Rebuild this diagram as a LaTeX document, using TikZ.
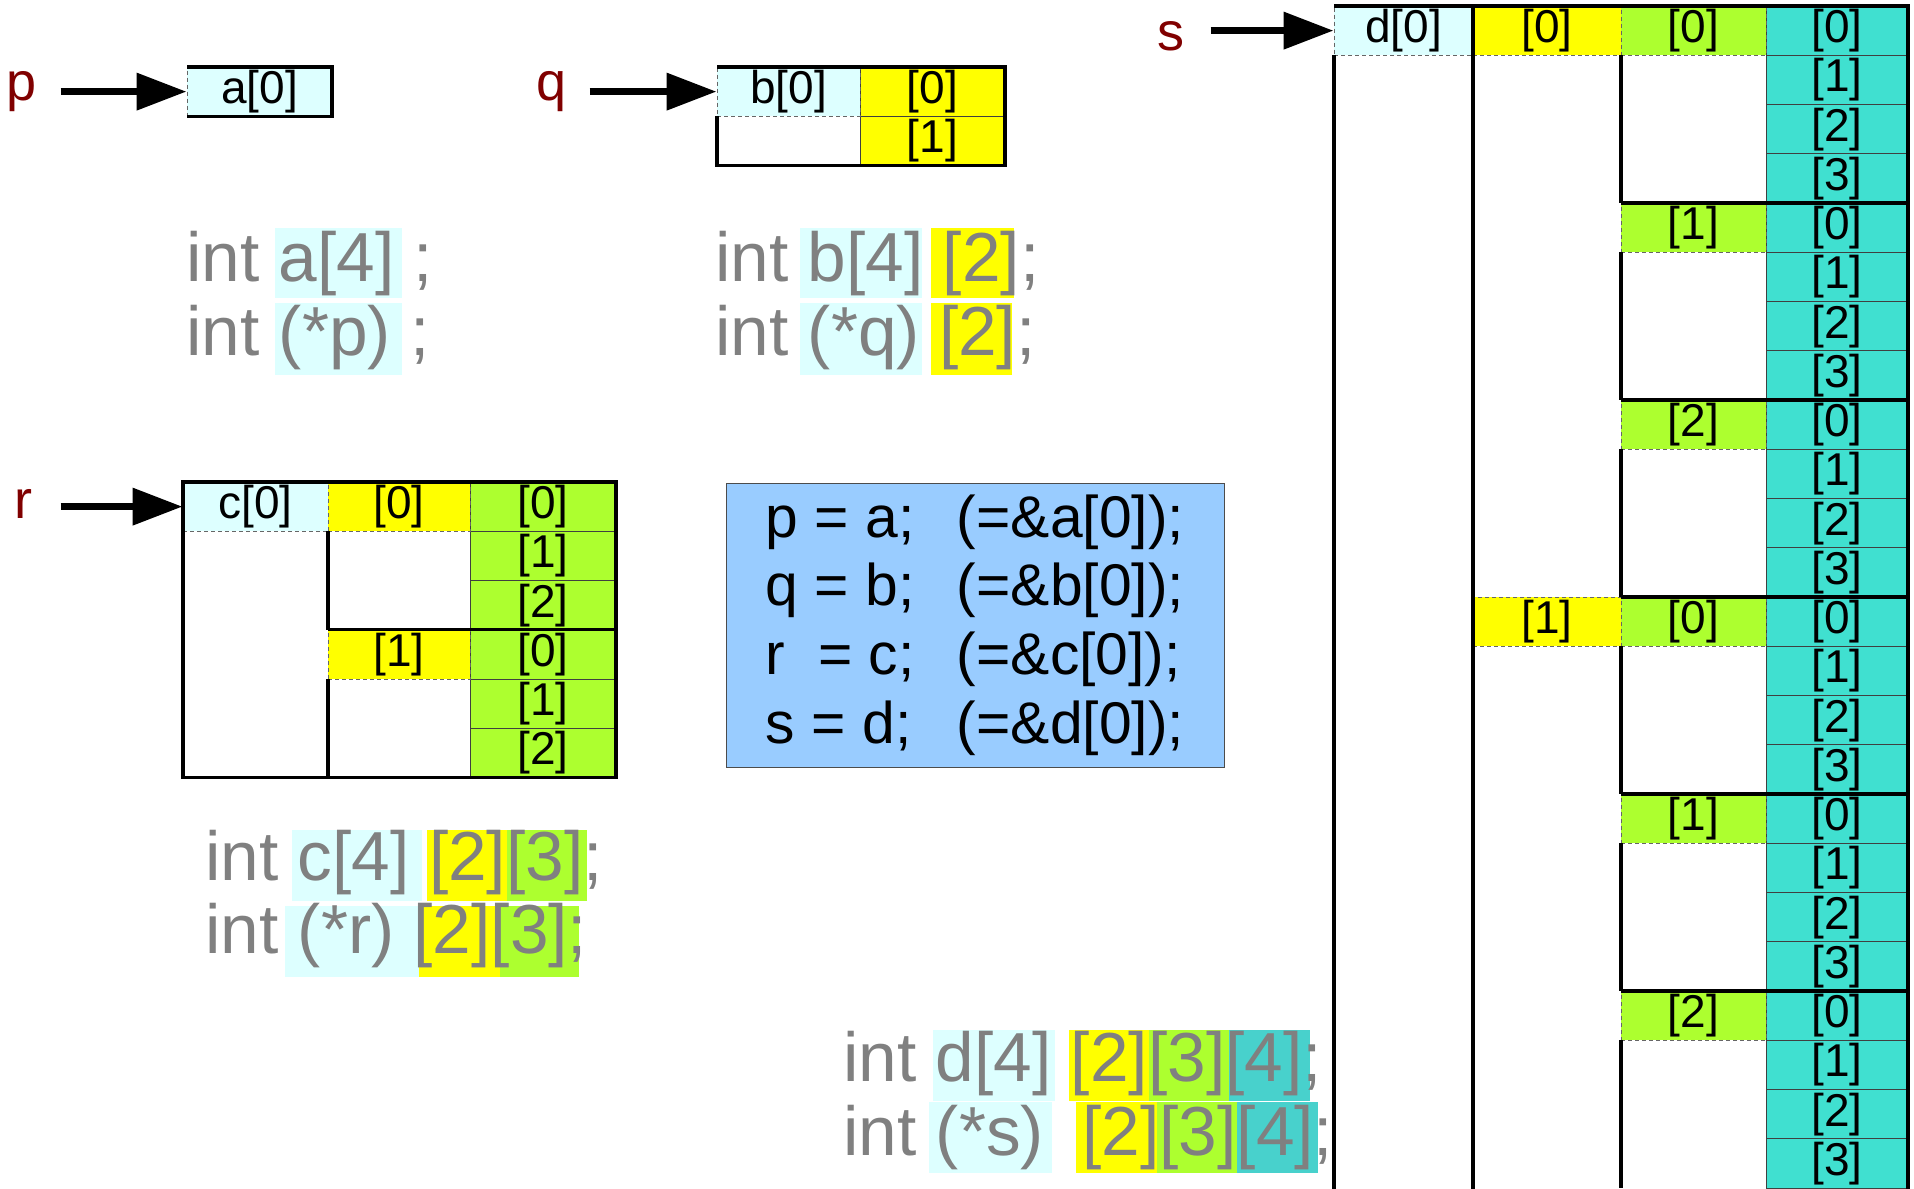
\documentclass[tikz,border=0pt]{standalone}
\usepackage{fontspec}
\setmainfont{Liberation Sans}
\usetikzlibrary{positioning,arrows.meta}
\definecolor{cellcyan}{HTML}{DDFFFF}
\definecolor{cellyellow}{HTML}{FFFF00}
\definecolor{cellgreen}{HTML}{ADFF2F}
\definecolor{cellturq}{HTML}{40E0D0}
\definecolor{codeturq}{HTML}{48D1CC}
\definecolor{codegray}{HTML}{808080}
\definecolor{ptrred}{HTML}{800000}
\definecolor{asgblue}{HTML}{99CCFF}
\tikzset{
  intcell/.style={draw=black!75, line width=0.5pt, inner sep=0pt,
    minimum height=24.625pt, font=\fontsize{23}{23}\selectfont},
  labcell/.style={draw=black!60, dash pattern=on 2pt off 1.5pt, line width=0.5pt,
    inner sep=0pt, minimum height=24.625pt, font=\fontsize{23}{23}\selectfont},
  frame/.style={line width=1.6pt, draw=black},
  ptr/.style={-{Triangle[length=25pt, width=18pt]}, line width=3.6pt},
  ptrlab/.style={text=ptrred, inner sep=0pt, anchor=base, font=\fontsize{27}{27}\selectfont},
  decl/.style={text=codegray, inner sep=0pt, anchor=base west, font=\fontsize{34.7}{34.7}\selectfont},
  asgbox/.style={draw=black!70, line width=0.5pt, fill=asgblue, align=left,
    inner sep=0pt, font=\fontsize{29.4}{34.3}\selectfont},
}

\begin{document}
\begin{tikzpicture}[x=0.5pt, y=-0.5pt]
    \useasboundingbox (0,0) rectangle (1914,1188);
    % declarations: highlights behind the text
    \fill[cellcyan] (275,228) rectangle (402,298);
    \fill[cellcyan] (275,303) rectangle (402,375);
    \node[decl] (adecl) at (186,281) {int a[4] ;};
    \node[decl] (pdecl) at (186,355) {int (*p) ;};
    \fill[cellcyan] (800,228) rectangle (922,298);
    \fill[cellyellow] (931,228) rectangle (1014,298);
    \fill[cellcyan] (800,303) rectangle (922,375);
    \fill[cellyellow] (931,303) rectangle (1012,375);
    \node[decl] (bdecl) at (715,281) {int b[4] [2];};
    \node[decl] (qdecl) at (715,355) {int (*q) [2];};
    \fill[cellcyan] (292,830) rectangle (422,901);
    \fill[cellyellow] (427,830) rectangle (507,901);
    \fill[cellgreen] (507,830) rectangle (587,901);
    \fill[cellcyan] (285,906) rectangle (419,977);
    \fill[cellyellow] (419,906) rectangle (500,977);
    \fill[cellgreen] (500,906) rectangle (579,977);
    \node[decl] (cdecl) at (205,880) {int c[4] [2][3];};
    \node[decl] (rdecl) at (205,953) {int (*r) [2][3];};
    \fill[cellcyan] (933,1030) rectangle (1055,1101);
    \fill[cellyellow] (1069,1030) rectangle (1149,1101);
    \fill[cellgreen] (1149,1030) rectangle (1229,1101);
    \fill[codeturq] (1229,1030) rectangle (1310,1101);
    \fill[cellcyan] (929,1102) rectangle (1052,1173);
    \fill[cellyellow] (1076,1102) rectangle (1157,1173);
    \fill[cellgreen] (1157,1102) rectangle (1237,1173);
    \fill[codeturq] (1237,1102) rectangle (1318,1173);
    \node[decl] (ddecl) at (843,1081) {int d[4] [2][3][4];};
    \node[decl] (sdecl) at (843,1155) {int (*s)\ \ [2][3][4];};
    % assignments
    \node[asgbox, minimum width=249pt, minimum height=142pt] (asg) at (975,625)
      {\makebox[95.5pt][l]{p = a;}(=\&a[0]);\\
       \makebox[95.5pt][l]{q = b;}(=\&b[0]);\\
       \makebox[95.5pt][l]{r\ \ = c;}(=\&c[0]);\\
       \makebox[95.5pt][l]{s = d;}(=\&d[0]);};
    % array a
    \node[labcell, fill=cellcyan, minimum width=72.5pt] (a0) at (259.5,91.625) {a[0]};
    \draw[frame] (187,67) -- (332,67) -- (332,116.25) -- (187,116.25);
    % array b
    \node[intcell, fill=cellyellow, minimum width=72.5pt] (b0-0) at (932.5,91.625) {[0]};
    \node[intcell, fill=cellyellow, minimum width=72.5pt] (b0-1) at (932.5,140.875) {[1]};
    \node[labcell, fill=cellcyan, minimum width=71.5pt] (b0) at (788.5,91.625) {b[0]};
    \draw[frame] (717,116.25) -- (717,165.5) -- (1005,165.5) -- (1005,67) -- (717,67);
    % array c
    \foreach \i in {0,...,5} {
      \pgfmathtruncatemacro\k{mod(\i,3)}
      \node[intcell, fill=cellgreen, minimum width=73pt] (c2-\i) at (543,{482+(\i+0.5)*49.25}) {[\k]};
    }
    \node[labcell, fill=cellcyan, minimum width=72.5pt] (c0) at (255.5,506.625) {c[0]};
    \node[labcell, fill=cellyellow, minimum width=71pt] (c1-0) at (399,506.625) {[0]};
    \node[labcell, fill=cellyellow, minimum width=71pt] (c1-1) at (399,654.375) {[1]};
    \draw[frame] (183,482) rectangle (616,777.5);
    \draw[frame] (328,531.25) -- (328,629.75);
    \draw[frame] (328,679) -- (328,777.5);
    \draw[frame] (328,629.75) -- (616,629.75);
    % array d
    \foreach \i in {0,...,23} {
      \pgfmathtruncatemacro\k{mod(\i,4)}
      \node[intcell, fill=cellturq, minimum width=71pt] (d3-\i) at (1837,{6+(\i+0.5)*49.25}) {[\k]};
    }
    \foreach \i in {0,...,5} {
      \pgfmathtruncatemacro\k{mod(\i,3)}
      \node[labcell, fill=cellgreen, minimum width=72.5pt] (d2-\i) at (1693.5,{6+(4*\i+0.5)*49.25}) {[\k]};
    }
    \node[labcell, fill=cellyellow, minimum width=74pt] (d1-0) at (1547,30.625) {[0]};
    \node[labcell, fill=cellyellow, minimum width=74pt] (d1-1) at (1547,{6+12.5*49.25}) {[1]};
    \node[labcell, fill=cellcyan, minimum width=69.5pt] (d0) at (1403.5,30.625) {d[0]};
    \draw[frame] (1334,55.25) -- (1334,1200);
    \draw[frame] (1334,6) -- (1908,6) -- (1908,1200);
    \draw[frame] (1473,6) -- (1473,1200);
    \foreach \k in {0,...,5}
      \draw[frame] (1621,{6+(4*\k+1)*49.25}) -- (1621,{6+(4*\k+4)*49.25});
    \foreach \k in {1,...,5}
      \draw[frame] (1621,{6+4*\k*49.25}) -- (1908,{6+4*\k*49.25});
    % pointers
    \node[ptrlab] (p) at (22,101) {p};
    \coordinate[left=63pt of a0.west] (pfrom);
    \draw[ptr] (pfrom) -- (a0.west);
    \node[ptrlab] (q) at (552,101) {q};
    \coordinate[left=63.5pt of b0.west] (qfrom);
    \draw[ptr] (qfrom) -- (b0.west);
    \node[ptrlab] (r) at (23,518) {r};
    \coordinate[left=61pt of c0.west] (rfrom);
    \draw[ptr] (rfrom) -- (c0.west);
    \node[ptrlab] (s) at (1171,51) {s};
    \coordinate[left=61.5pt of d0.west] (sfrom);
    \draw[ptr] (sfrom) -- (d0.west);
  \end{tikzpicture}
\end{document}
